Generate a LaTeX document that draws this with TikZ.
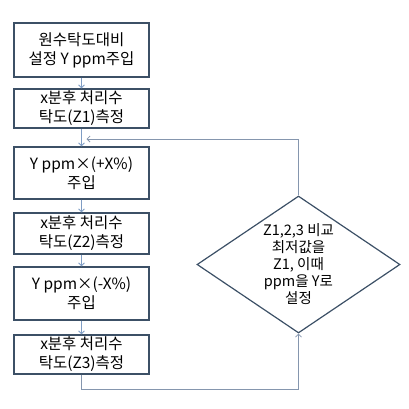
\documentclass[tikz,border=0pt]{standalone}
\usepackage{fontspec}
\setmainfont{Noto Sans CJK KR}
\usetikzlibrary{arrows.meta,shapes.geometric,positioning}
\definecolor{boxline}{HTML}{3C5066}
\definecolor{flowline}{HTML}{7F9DC4}
\definecolor{loopline}{HTML}{8596AE}

\begin{document}
\begin{tikzpicture}[x=1pt,y=-1pt]
\tikzstyle{stepbox} = [
	shape=rectangle,
	draw=boxline, %border of the box
	fill=white,
	line width=1.3pt,
	minimum width=135pt,
	align=center,
	font=\fontsize{15.5}{19}\selectfont,
	inner sep=0pt
];
\tikzstyle{decide} = [
	shape=diamond,
	draw=boxline,
	line width=1.2pt,
	minimum width=203pt,
	minimum height=137pt,
	aspect=1.48,
	align=center,
	font=\fontsize{14.5}{17}\selectfont,
	inner sep=0pt
];
\useasboundingbox (0,0) rectangle (409,408);

%left column
\node[stepbox, minimum height=54pt](Start) at (81.5,50) {원수탁도대비\\설정 Y ppm주입};
\node[stepbox, minimum height=39pt](MeasA) at (81.5,108.5) {x분후 처리수\\탁도(Z1)측정};
\node[stepbox, minimum height=52pt](Plus) at (81.5,173) {Y ppm×(+X\%)\\주입};
\node[stepbox, minimum height=41pt](MeasB) at (81.5,233.5) {x분후 처리수\\탁도(Z2)측정};
\node[stepbox, minimum height=53pt](Minus) at (81.5,293.5) {Y ppm×(-X\%)\\주입};
\node[stepbox, minimum height=39pt](MeasC) at (81.5,354.5) {x분후 처리수\\탁도(Z3)측정};

%decision
\node[decide](Cmp) at (298.5,264.5) {Z1,2,3 비교\\최저값을\\Z1, 이때\\ppm을 Y로\\설정};

\coordinate (LoopIn) at (84.5,139);
\coordinate (LoopTop) at (298.5,139);
\coordinate (LoopLow) at (81.5,389);
\coordinate (LoopBot) at (298.5,389);

%main flow
\draw[-{Straight Barb[length=3pt,width=6pt]}, line width=0.8pt, color=flowline]
	(Start) edge[] (MeasA)
	(MeasA) edge[] (Plus)
	(Plus) edge[] (MeasB)
	(MeasB) edge[] (Minus)
	(Minus) edge[] (MeasC)
;

%loop back
\draw[-{Straight Barb[length=3pt,width=6pt]}, line width=0.8pt, color=loopline]
	(MeasC.south) -- (LoopLow) -- (LoopBot) -- (Cmp.south);
\draw[-{Straight Barb[length=3pt,width=6pt]}, line width=0.8pt, color=loopline, shorten >=2pt]
	(Cmp.north) -- (LoopTop) -- (LoopIn);
\end{tikzpicture}
\end{document}
